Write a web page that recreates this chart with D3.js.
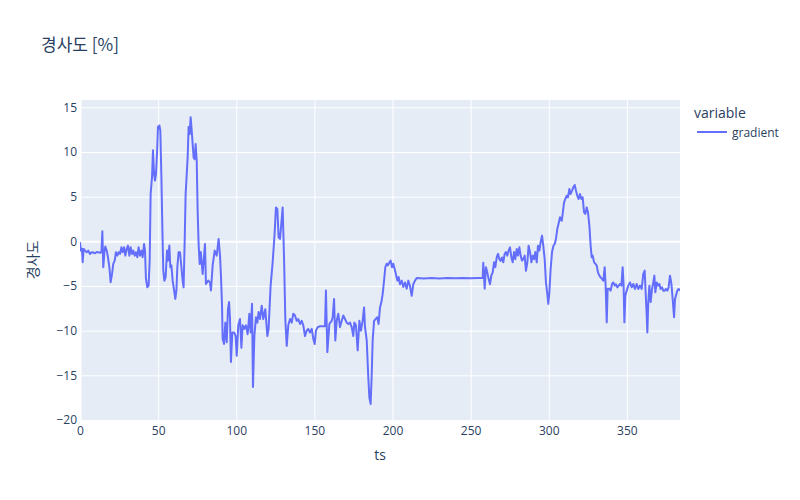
<!DOCTYPE html>
<html><head><meta charset="utf-8">
<script src="https://cdn.jsdelivr.net/npm/d3@7"></script>
<style>
body{margin:0;background:#fff;}
svg text{font-family:"Open Sans","Noto Sans CJK KR",verdana,arial,sans-serif;fill:#2a3f5f;}
svg text.cjk{font-family:"Noto Sans CJK KR","Open Sans",sans-serif;}
</style></head>
<body><svg id="c" width="800" height="500"></svg>
<script>
const ts = [0,0.64,1.28,1.7,2.35,3.2,4.3,5.3,6.4,7.5,8.5,9.6,10.7,11.7,12.7,13.7,14.3,14.9,15.6,16.2,17.1,17.9,18.8,19.6,20.5,21.3,22.2,23,23.9,24.7,25.6,26.5,27.3,28.2,29,29.9,30.7,31.6,32.4,33.3,34.1,35,35.8,36.7,37.5,38.4,39.3,40.1,41,41.6,42.2,43.1,43.9,44.6,45.2,46.1,46.7,47.4,48,48.6,49.3,49.9,50.8,51.4,52.1,52.7,53.3,54,54.8,55.7,56.3,57.2,57.8,58.5,59.3,60.2,61,61.7,62.3,63.1,64,64.9,65.7,66.3,67,67.6,68.3,68.9,69.5,70.2,70.8,71.5,72.1,72.7,73.4,74,74.7,75.3,75.9,76.6,77.3,
78.5,80.0,80.6,82.1,83.2,83.8,84.9,86.2,87.5,88.7,89.6,90.2,90.9,91.3,92.2,93.0,93.9,94.7,95.4,96.0,96.6,97.5,98.6,99.6,100.3,101.3,102.4,103.3,104.1,105.2,106.2,107.3,108.4,109.2,110.1,110.7,111.6,112.6,113.5,114.3,115.2,116.3,117.3,118.6,119.9,120.7,122.0,123.3,124.6,125.4,126.3,127.1,128.0,128.9,129.7,130.6,131.4,132.3,133.3,134.4,135.5,136.5,137.6,138.7,139.7,140.8,141.9,142.9,144.0,145.1,146.1,147.2,148.3,149.3,150.2,151.0,152.1,153.6,
156.8,157.4,158.3,159.6,161.1,161.7,162.6,163.4,164.3,165.3,166.4,167.5,168.5,169.6,170.7,171.7,172.8,173.9,174.9,175.6,176.6,177.7,178.8,179.8,180.9,181.8,182.4,183.5,184.5,185.2,186.0,186.7,187.3,188.2,189.2,190.3,191.1,192.0,192.9,193.7,194.6,195.4,196.3,197.1,198.0,198.8,199.7,200.5,201.4,202.2,203.1,203.9,204.8,205.9,206.9,208.0,209.1,210.1,211.2,212.3,213.3,214.4,215.5,220,225,230,235,240,245,250,255,257.7,
258.1,259,259.8,260.7,261.5,262.4,263.3,264.1,265,265.8,266.7,267.5,268.4,269.2,270.1,270.9,271.8,272.6,273.5,274.3,275.2,276.1,276.9,277.8,278.6,279.5,280.3,281.2,282.0,282.9,283.7,284.6,285.4,286.3,287.1,288,288.9,289.7,290.6,291.4,292.3,293.1,294,294.8,295.7,296.5,297.4,298.2,299.1,299.7,300.4,301.2,302.1,303,303.8,304.6,305.5,306.3,
307.2,308.3,308.9,309.8,310.6,311.5,312.3,313.2,314,314.9,315.7,316.6,317.4,318.3,319.1,320,320.9,321.7,322.6,323.4,324.3,325.1,326,326.8,327.5,328.1,329,329.8,330.7,331.5,332.4,333.2,334.1,334.9,335.8,336.4,337.1,337.7,338.7,339.6,340.5,341.3,342.2,343.0,343.9,344.8,345.6,346.5,347.3,347.9,348.4,349,349.9,350.9,352,353.1,354.1,355.2,356.3,357.3,358.4,359.5,360.5,361.4,362,362.7,363.1,363.7,364.4,365.2,366.1,366.9,367.6,368.2,369.1,369.9,370.8,371.6,372.5,373.3,374.2,375,375.9,376.7,377.6,378.5,379.3,380.2,380.8,381.4,382.3,383.1,384];
const gradient = [-0.1,-1.04,-0.85,-2.34,-0.85,-1.04,-1.22,-1.04,-1.41,-1.22,-1.25,-1.34,-1.2,-1.22,-1.28,-1.22,1.13,-2.9,-1.22,-0.59,-1.04,-1.78,-2.9,-4.58,-3.65,-2.53,-2.16,-1.22,-1.6,-1.22,-1.41,-0.66,-1.22,-0.66,-1.6,-0.85,-0.48,-1.6,-0.66,-1.41,-1.04,-1.6,-1.22,-1.78,-0.66,-1.6,-1.04,-1.78,-0.29,-1.04,-4.2,-5.14,-4.96,-2.16,5.3,7.2,10.2,7.5,6.8,7.5,9.8,12.8,12.96,12.4,7.2,1.58,-3.28,-4.4,-4.0,-1.04,-2.16,-0.48,-2.9,-2.7,-4.4,-5.5,-6.45,-5.5,-2.9,-1.22,-1.22,-2.9,-4.4,-5.14,0.08,5.3,7.5,9.4,12.8,12.0,13.9,12.4,10.9,9.4,9.2,10.9,9.0,3.4,-0.29,-2.53,-1.2,
-3.65,-0.29,-4.77,-4.4,-4.6,-5.5,-2.7,-1.04,-1.6,0.27,-1.6,-3.8,-7.2,-10.9,-11.5,-9.1,-11.3,-7.6,-6.8,-8.7,-13.5,-10.2,-10.2,-10.6,-12.8,-9.4,-8.7,-11.9,-9.4,-9.8,-9.4,-10.4,-8.1,-10.2,-7.0,-16.3,-10.6,-8.5,-9.1,-7.9,-8.7,-7.2,-8.7,-7.6,-10.6,-9.8,-4.96,-2.35,1.0,3.8,3.6,0.45,0.27,2.1,3.8,-1.97,-8.7,-11.7,-9.4,-8.7,-9.1,-8.1,-8.3,-8.9,-8.7,-9.25,-8.9,-9.4,-10.6,-10.0,-9.8,-10.2,-9.8,-10.9,-11.5,-10.0,-9.6,-9.5,
-9.5,-5.5,-12.4,-9.25,-8.9,-8.5,-6.45,-11.1,-8.9,-8.1,-9.6,-8.9,-8.3,-8.7,-9.1,-9.25,-9.1,-9.6,-10.6,-9.1,-9.4,-12.2,-8.9,-10.0,-8.9,-7.4,-9.6,-11.1,-15.2,-17.5,-18.2,-14.9,-11.1,-8.9,-8.7,-8.5,-9.25,-7.4,-6.8,-5.9,-4.4,-2.9,-2.5,-2.7,-2.35,-2.16,-2.9,-2.5,-3.1,-3.7,-4.4,-4.0,-4.8,-4.4,-5.1,-4.6,-5.3,-4.4,-5.0,-6.1,-4.8,-4.4,-4.1,-4.15,-4.1,-4.15,-4.1,-4.12,-4.1,-4.12,-4.1,-4.1,
-2.4,-5.3,-2.9,-3.5,-4.2,-4.8,-3.8,-3.5,-2.35,-2.9,-1.8,-1.4,-2.0,-2.2,-1.8,-2.35,-1.4,-1.2,-1.6,-1.04,-0.67,-1.8,-2.35,-1.2,-2.0,-0.85,-1.6,-0.67,-1.6,-2.16,-2.0,-1.6,-3.3,-2.35,-0.5,-1.2,-2.35,-1.6,-2.0,-1.2,-2.35,-0.5,-1.04,-0.1,0.64,-0.5,-2.0,-4.6,-5.9,-7.0,-5.7,-3.1,-1.2,-0.5,-0.3,0.27,1.4,2.0,
2.69,2.3,3.07,4.37,4.74,5.1,4.93,5.86,5.3,5.68,6.05,6.31,5.68,5.1,4.74,5.3,4.74,4.93,3.25,3.07,3.8,3.25,1.76,-0.48,-1.79,-1.6,-2.35,-2.5,-2.72,-3.47,-3.84,-4.03,-4.2,-4.4,-2.9,-4.96,-9.07,-5.3,-5.3,-5.52,-4.77,-4.6,-4.96,-4.8,-5.15,-4.96,-4.77,-4.96,-2.9,-4.96,-9.07,-6.08,-5.52,-4.96,-4.6,-5.15,-4.77,-5.33,-4.77,-5.33,-4.96,-5.33,-3.65,-3.28,-5.7,-8.3,-10.2,-6.8,-4.96,-6.8,-5.33,-4.6,-3.84,-5.7,-4.6,-4.96,-4.77,-5.33,-5.15,-5.52,-5.52,-5.33,-5.52,-5.15,-3.84,-4.77,-6.45,-8.5,-6.45,-6.08,-5.52,-5.33,-5.52];
const xTicks = [0,50,100,150,200,250,300,350];
const yTicks = [-20,-15,-10,-5,0,5,10,15];
const seriesName = "gradient";
const legendTitle = "variable";
const chartTitle = "경사도 [%]";
const xTitle = "ts";
const yTitle = "경사도";

const svg = d3.select("#c");
const L=80, R=680, T=100, B=420;
const x = d3.scaleLinear().domain([0,384]).range([L,R]);
const y = d3.scaleLinear().domain([-20,15.82]).range([B,T]);

svg.append("rect").attr("x",L).attr("y",T).attr("width",R-L).attr("height",B-T).attr("fill","#E5ECF6");

const gx = svg.append("g").attr("transform",`translate(0,${B})`)
  .call(d3.axisBottom(x).tickValues(xTicks).tickSize(0).tickPadding(6).tickFormat(d3.format("d")));
gx.select(".domain").remove();
gx.selectAll("text").attr("font-size",12).attr("dy","0.71em").attr("y",6);
gx.selectAll(".tick").append("line").attr("y1",0).attr("y2",-(B-T)).attr("stroke","#fff").attr("stroke-width",d=>d===0?2:1);

const fmtY = d => d<0 ? "\u2212"+Math.abs(d) : String(d);
const gy = svg.append("g").attr("transform",`translate(${L},0)`)
  .call(d3.axisLeft(y).tickValues(yTicks).tickSize(0).tickPadding(3).tickFormat(fmtY));
gy.select(".domain").remove();
gy.selectAll("text").attr("font-size",12);
gy.selectAll(".tick").append("line").attr("x1",0).attr("x2",R-L).attr("stroke","#fff").attr("stroke-width",d=>d===0?2:1);

const data = ts.map((t,i)=>({t, v:gradient[i]}));
svg.append("clipPath").attr("id","cp").append("rect").attr("x",L).attr("y",T-2).attr("width",R-L).attr("height",B-T+4);
svg.append("path").datum(data).attr("clip-path","url(#cp)")
  .attr("fill","none").attr("stroke","#636efa").attr("stroke-width",2).attr("stroke-linejoin","round")
  .attr("d", d3.line().x(d=>x(d.t)).y(d=>y(d.v)));

svg.append("text").attr("class","cjk").attr("x",41).attr("y",51).attr("font-size",17).text(chartTitle);
svg.append("text").attr("x",(L+R)/2).attr("y",460).attr("text-anchor","middle").attr("font-size",14).text(xTitle);
svg.append("text").attr("class","cjk").attr("transform",`translate(38,${(T+B)/2}) rotate(-90)`).attr("text-anchor","middle").attr("font-size",14).text(yTitle);

svg.append("text").attr("x",694).attr("y",118).attr("font-size",14).text(legendTitle);
svg.append("line").attr("x1",697).attr("x2",727).attr("y1",132).attr("y2",132).attr("stroke","#636efa").attr("stroke-width",2);
svg.append("text").attr("x",732).attr("y",136.5).attr("font-size",12).text(seriesName);
</script></body></html>
